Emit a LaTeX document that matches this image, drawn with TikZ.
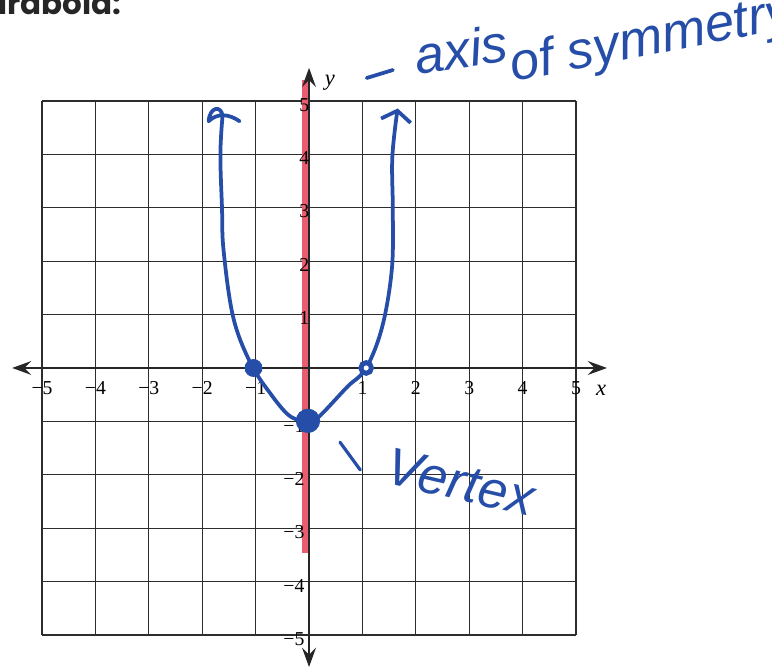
\documentclass[tikz,border=0pt]{standalone}
\usepackage{fontspec}
\setmainfont{Liberation Serif}
\newfontfamily\handfont{Liberation Sans}
\newfontfamily\titlefont{Poppins}
\usepackage{tikz}
\usetikzlibrary{arrows.meta, positioning}

\definecolor{pen}{RGB}{38,78,168}
\definecolor{marker}{RGB}{234,92,112}
\definecolor{gridgray}{RGB}{45,45,45}

\begin{document}
\begin{tikzpicture}[>={Stealth[length=3.6mm,width=2.6mm,inset=1.3mm]}, font=\fontsize{10.5}{12}\selectfont,
    axis/.style={line width=1pt, black!85},
    gridlines/.style={gridgray, line width=0.6pt},
    tick/.style={inner sep=0pt, font=\fontsize{10.5}{12}\selectfont},
    varlabel/.style={inner sep=0pt, font=\itshape\fontsize{12}{14}\selectfont},
    pencurve/.style={pen, line width=2pt, line cap=round, line join=round},
    handtext/.style={pen, inner sep=0pt, font=\handfont\itshape\fontsize{28}{30}\selectfont},
    fulldot/.style={circle, fill=pen, draw=pen, inner sep=0pt},
    ringdot/.style={circle, draw=pen, line width=2.6pt, fill=white, minimum size=0.2cm, inner sep=0pt}]

\useasboundingbox (-5.787,-5.674) rectangle (8.670,6.891);

\node[anchor=base east, text=black!85, font=\titlefont\bfseries\fontsize{16.5}{20}\selectfont] (title) at (-3.39,6.61) {Parabola:};

% grid
\draw[gridlines] (-5,-5) grid (5,5);

% axis of symmetry (marker)
\coordinate (mtop) at (-0.07,5.39);
\coordinate (mbot) at (-0.07,-3.47);
\draw[marker, line width=3.6pt] (mtop) -- (mbot);

% axes
\coordinate (xmin) at (-5.56,0);
\coordinate (xmax) at (5.58,0);
\coordinate (ymin) at (0,-5.6);
\coordinate (ymax) at (0,5.62);
\draw[axis, <->] (xmin) -- (xmax);
\draw[axis, <->] (ymin) -- (ymax);
\node[varlabel] (xlab) at (5.47,-0.41) {x};
\node[varlabel] (ylab) at (0.39,5.34) {y};

% tick labels
\foreach \x in {1,...,5} {
  \node[tick] (xp\x) at (\x,-0.37) {\x};
  \node[tick] (xm\x) at (-\x,-0.37) {−\x};
  \node[tick, anchor=east] (yp\x) at (0.01,\x-0.07) {\x};
  \node[tick, anchor=east] (ym\x) at (-0.08,-\x-0.08) {−\x};
}

% parabola
\draw[pencurve] plot[smooth, tension=0.6] coordinates {(-1.62,4.72) (-1.66,4) (-1.63,3) (-1.6,2.2) (-1.42,0.95) (-1.1,0.1) (-0.73,-0.47) (-0.36,-0.9) (0,-1.02)};
\draw[pencurve] (-1.62,4.72) .. controls (-1.64,4.92) and (-1.86,4.9) .. (-1.88,4.62) .. controls (-1.72,4.78) and (-1.5,4.76) .. (-1.3,4.62);
\draw[pencurve, -{Straight Barb[length=1.9mm,width=5.6mm]}] plot[smooth, tension=0.6] coordinates {(0,-1.02) (0.2,-0.9) (0.71,-0.36) (1.07,0) (1.37,0.77) (1.55,1.84) (1.57,2.9) (1.56,3.95) (1.66,4.86)};

\node[fulldot, minimum size=0.32cm] (lroot) at (-1.04,0) {};
\node[fulldot, minimum size=0.44cm] (vtx) at (-0.02,-0.99) {};
\node[ringdot] (rroot) at (1.07,0) {};

% notes
\coordinate (dashA) at (1.08,5.43);
\coordinate (dashB) at (1.57,5.58);
\draw[pencurve] (dashA) -- (dashB);
\node[handtext, anchor=base west, rotate=8] (axisnote) at (2.02,5.5) {axis};
\node[handtext, anchor=base west, rotate=11] (symnote) at (3.82,5.36) {of symmetry};
\coordinate (tickA) at (0.58,-1.39);
\coordinate (tickB) at (0.96,-1.91);
\draw[pencurve, line width=1.7pt] (tickA) -- (tickB);
\node[handtext, anchor=base west, rotate=-13] (vtxnote) at (1.39,-2.15) {Vertex};
\end{tikzpicture}
\end{document}
